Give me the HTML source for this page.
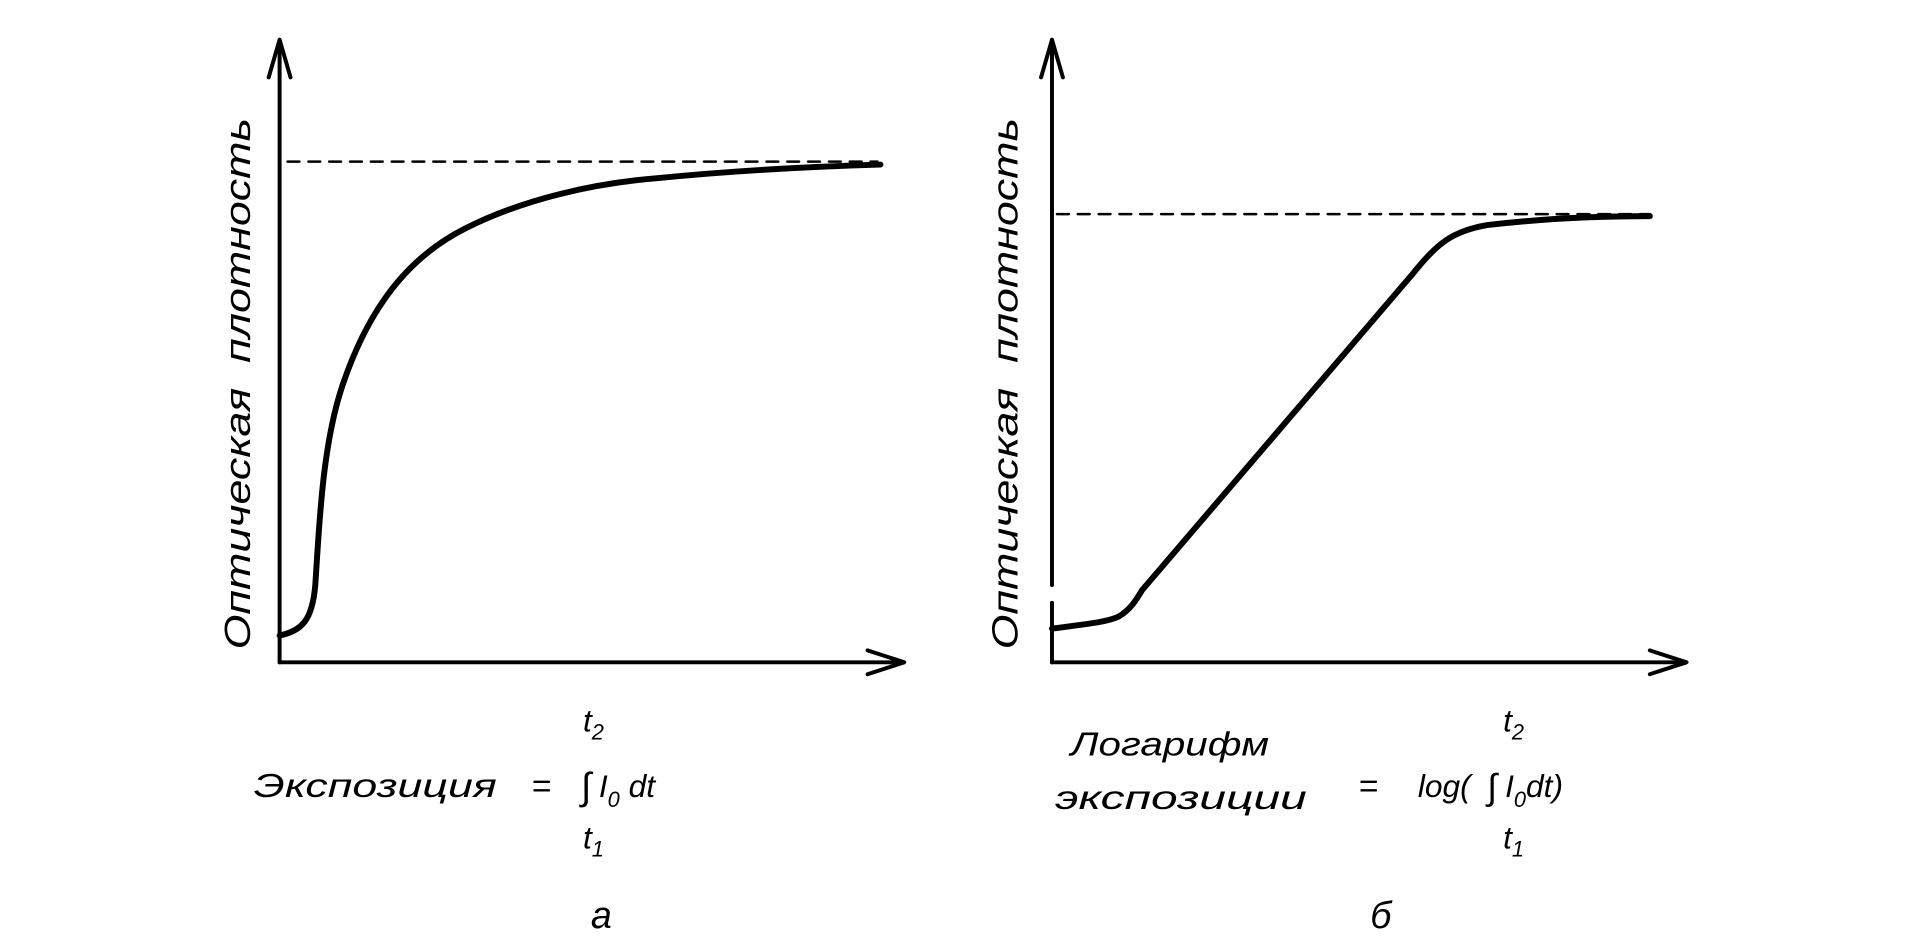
<!DOCTYPE html>
<html><head><meta charset="utf-8"><style>
html,body{margin:0;padding:0;background:#fff;}
svg{display:block;}
text{font-family:"Liberation Sans","DejaVu Sans",sans-serif;font-style:italic;fill:#000;}
</style></head><body>
<svg width="1920" height="949" viewBox="0 0 1920 949" xmlns="http://www.w3.org/2000/svg">
<g transform="scale(0.9915)">
<g stroke="#000" fill="none" stroke-linecap="round" stroke-linejoin="round">
<line x1="282" y1="668" x2="282" y2="45" stroke-width="4"/>
<path d="M271 78 L282 40 L293 78" stroke-width="4"/>
<line x1="282" y1="668" x2="908" y2="668" stroke-width="4"/>
<path d="M875 656 L912 668 L875 680" stroke-width="4"/>
<line x1="290" y1="163" x2="885" y2="163" stroke-width="2.5" stroke-dasharray="12,9"/>
<path d="M282 641 C305 636 315 625 318 590 C322 530 325 450 345 390 C375 300 420 255 470 230 C530 200 600 185 660 180 C740 172 820 168 888 166" stroke-width="6"/>
<line x1="1061" y1="668" x2="1061" y2="608" stroke-width="4"/>
<line x1="1061" y1="590" x2="1061" y2="45" stroke-width="4"/>
<path d="M1050 78 L1061 40 L1072 78" stroke-width="4"/>
<line x1="1061" y1="668" x2="1697" y2="668" stroke-width="4"/>
<path d="M1664 656 L1701 668 L1664 680" stroke-width="4"/>
<line x1="1066" y1="216" x2="1664" y2="216" stroke-width="2.5" stroke-dasharray="12,9"/>
<path d="M1061 634 C1090 630 1115 628 1128 622 C1140 615 1146 605 1152 595 L1425 276 C1450 245 1465 233 1500 227 C1560 220 1620 218 1664 218" stroke-width="6"/>
</g>
<text transform="translate(252,387) rotate(-90)" font-size="36" text-anchor="middle" textLength="536" lengthAdjust="spacingAndGlyphs">Оптическая &#160;плотность</text>
<text transform="translate(1026,387) rotate(-90)" font-size="36" text-anchor="middle" textLength="536" lengthAdjust="spacingAndGlyphs">Оптическая &#160;плотность</text>
<text x="256" y="804" font-size="34" textLength="245" lengthAdjust="spacingAndGlyphs">Экспозиция</text>
<text x="536" y="804" font-size="34">=</text>
<text x="588" y="738" font-size="32">t<tspan font-size="22" dy="8">2</tspan></text>
<text x="586" y="806" font-size="38">∫</text>
<text x="604" y="804" font-size="32">I<tspan font-size="22" dy="10">0</tspan><tspan dy="-10"> dt</tspan></text>
<text x="588" y="856" font-size="32">t<tspan font-size="22" dy="8">1</tspan></text>
<text x="596" y="936" font-size="38">а</text>
<text x="1080" y="762" font-size="34" textLength="200" lengthAdjust="spacingAndGlyphs">Логарифм</text>
<text x="1064" y="816" font-size="34" textLength="254" lengthAdjust="spacingAndGlyphs">экспозиции</text>
<text x="1370" y="804" font-size="34">=</text>
<text x="1516" y="738" font-size="32">t<tspan font-size="22" dy="8">2</tspan></text>
<text x="1430" y="804" font-size="32">log(</text>
<text x="1500" y="806" font-size="36">∫</text>
<text x="1518" y="804" font-size="32">I<tspan font-size="22" dy="10">0</tspan><tspan dy="-10">dt)</tspan></text>
<text x="1516" y="856" font-size="32">t<tspan font-size="22" dy="8">1</tspan></text>
<text x="1382" y="936" font-size="38">б</text>
</g>
</svg>
</body></html>
